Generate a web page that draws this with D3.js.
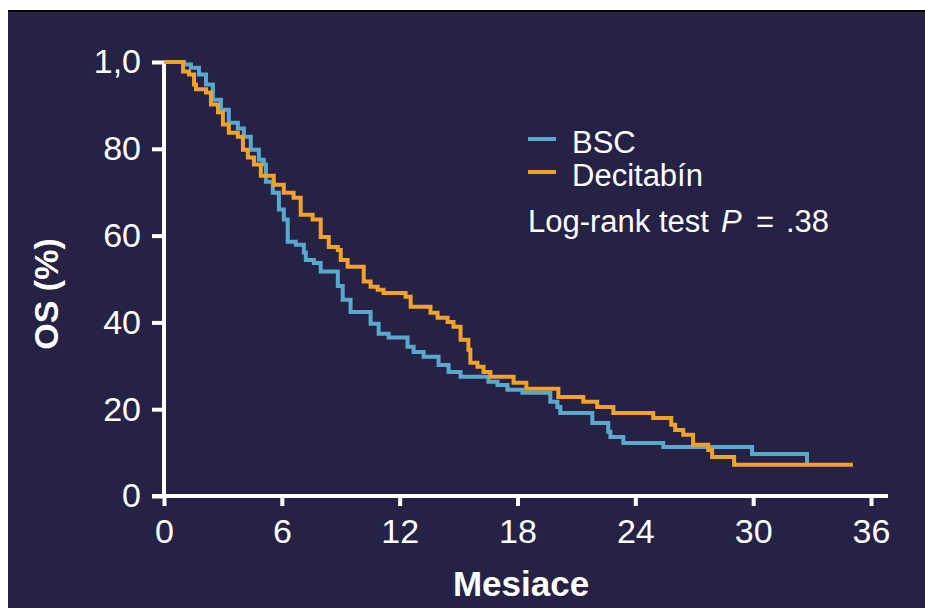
<!DOCTYPE html>
<html>
<head>
<meta charset="utf-8">
<script src="https://cdn.jsdelivr.net/npm/d3@7"></script>
<style>
body { margin: 0; background: #fff; }
svg { display: block; font-family: "Liberation Sans", Arial, sans-serif; }
</style>
</head>
<body>
<div id="main-vis"></div>
<script>
// Kaplan-Meier steps: month, OS (%)
var bscTime = [0, 1.02, 1.37, 1.78, 2.14, 2.49, 2.9, 3.3, 3.76, 4.07, 4.42, 4.83, 5.08, 5.19, 5.54, 5.85, 6.1, 6.3, 6.71, 7.12, 7.22, 7.63, 7.98, 8.85, 9.1, 9.5, 10.52, 10.93, 11.44, 12.4, 12.71, 13.22, 13.98, 14.49, 15.1, 16.52, 16.98, 17.49, 18.25, 19.67, 20.03, 20.18, 21.81, 22.62, 22.73, 23.39, 25.42, 29.94, 32.74];
var bscSurv = [100, 99.4, 98.7, 97.1, 94.8, 91.3, 89.0, 86.0, 84.7, 82.8, 79.8, 77.5, 76.4, 72.4, 69.9, 66.0, 63.7, 58.6, 57.9, 56.1, 54.4, 53.7, 51.7, 48.4, 45.2, 42.4, 39.7, 37.4, 36.5, 34.4, 33.2, 32.1, 30.2, 28.6, 27.5, 26.3, 25.6, 24.5, 23.8, 21.7, 20.5, 19.1, 16.8, 14.8, 13.6, 12.2, 11.3, 9.7, 7.6];

var decTime = [0, 0.97, 1.27, 1.53, 1.63, 2.14, 2.39, 2.75, 3.0, 3.3, 3.76, 4.02, 4.27, 4.58, 4.93, 5.59, 6.1, 6.6, 6.96, 7.57, 7.98, 8.39, 8.85, 9.0, 9.35, 10.17, 10.52, 10.88, 11.18, 12.3, 12.56, 13.57, 13.93, 14.44, 14.74, 15.1, 15.5, 15.6, 15.96, 16.27, 16.62, 17.8, 18.45, 20.08, 21.35, 22.06, 22.88, 24.91, 25.83, 26.03, 26.44, 26.94, 27.71, 27.91, 29.03, 35.08];
var decSurv = [100, 97.8, 97.1, 94.8, 93.7, 93.0, 90.2, 88.4, 85.6, 83.7, 82.8, 79.8, 78.0, 76.4, 73.8, 71.7, 69.9, 68.7, 64.8, 63.7, 59.7, 57.4, 56.7, 54.4, 52.8, 49.4, 48.2, 47.5, 46.8, 45.9, 43.6, 42.2, 41.1, 40.1, 39.0, 36.0, 33.7, 30.7, 29.8, 28.6, 27.5, 26.1, 24.7, 22.8, 21.7, 20.5, 19.1, 18.0, 16.4, 15.2, 14.1, 11.8, 10.6, 9.0, 7.2, 7.2];

var xTicks = [0, 6, 12, 18, 24, 30, 36];
var yTicks = [0, 20, 40, 60, 80, 100];
var yTickLabels = ["0", "20", "40", "60", "80", "1,0"];
var seriesNames = ["BSC", "Decitabín"];
var seriesColors = ["#5aa9cc", "#f1a12e"];

var W = 925, H = 608;
var navy = "#252245";

var svg = d3.select("#main-vis").append("svg")
     .attr("width", W)
     .attr("height", H);

// panel
svg.append("rect")
     .attr("x", 8).attr("y", 10)
     .attr("width", W - 8).attr("height", H - 10)
     .attr("fill", navy);
svg.append("line")
     .attr("x1", 8).attr("x2", W)
     .attr("y1", 11).attr("y2", 11)
     .attr("stroke", "#000").attr("stroke-width", 2);

var x = d3.scaleLinear().domain([0, 36]).range([164, 871]);
var y = d3.scaleLinear().domain([0, 100]).range([496, 62]);

var line = d3.line()
     .curve(d3.curveStepAfter)
     .x(function (d) { return x(d[0]); })
     .y(function (d) { return y(d[1]); });

var series = [
     d3.zip(bscTime, bscSurv),
     d3.zip(decTime, decSurv)
];

// axes
var gx = svg.append("g")
     .attr("transform", "translate(0," + y(0) + ")")
     .call(d3.axisBottom(x).tickValues(xTicks).tickSize(10).tickPadding(13).tickSizeOuter(0));
var gy = svg.append("g")
     .attr("transform", "translate(" + x(0) + ",0)")
     .call(d3.axisLeft(y).tickValues(yTicks).tickSize(12).tickPadding(11).tickSizeOuter(0)
          .tickFormat(function (d, i) { return yTickLabels[i]; }));

[gx, gy].forEach(function (g) {
     g.select(".domain").remove();
     g.selectAll(".tick line").attr("stroke", "#fff").attr("stroke-width", 4);
     g.selectAll(".tick text")
          .attr("fill", "#fff")
          .style("font-size", "34px")
          .style("font-family", "'Liberation Sans', Arial, sans-serif");
});

svg.append("line")
     .attr("x1", x(0) - 12).attr("x2", x(36) + 17)
     .attr("y1", y(0)).attr("y2", y(0))
     .attr("stroke", "#fff").attr("stroke-width", 4);
svg.append("line")
     .attr("x1", x(0)).attr("x2", x(0))
     .attr("y1", y(100)).attr("y2", y(0))
     .attr("stroke", "#fff").attr("stroke-width", 4);

// curves
svg.selectAll("path.km")
     .data(series)
     .enter().append("path")
     .attr("class", "km")
     .attr("d", line)
     .attr("fill", "none")
     .attr("stroke", function (d, i) { return seriesColors[i]; })
     .attr("stroke-width", 4);

// axis titles
svg.append("text")
     .attr("x", 521).attr("y", 596)
     .attr("text-anchor", "middle")
     .attr("fill", "#fff")
     .style("font-size", "35px").style("font-weight", "bold")
     .text("Mesiace");
svg.append("text")
     .attr("transform", "translate(58,294) rotate(-90)")
     .attr("text-anchor", "middle")
     .attr("fill", "#fff")
     .style("font-size", "34px").style("font-weight", "bold")
     .text("OS (%)");

// legend
var legend = svg.append("g");
seriesNames.forEach(function (name, i) {
     var ly = 139 + i * 33;
     legend.append("line")
          .attr("x1", 528).attr("x2", 556)
          .attr("y1", ly).attr("y2", ly)
          .attr("stroke", seriesColors[i]).attr("stroke-width", 4);
     legend.append("text")
          .attr("x", 572).attr("y", ly + 14)
          .attr("fill", "#fff")
          .style("font-size", "31px")
          .text(name);
});
var lr = legend.append("text")
     .attr("y", 232)
     .attr("fill", "#fff")
     .style("font-size", "31px");
lr.append("tspan").attr("x", 528).text("Log-rank test");
lr.append("tspan").attr("x", 721).style("font-style", "italic").text("P");
lr.append("tspan").attr("x", 756).text("=");
lr.append("tspan").attr("x", 786).text(".38");
</script>
</body>
</html>
